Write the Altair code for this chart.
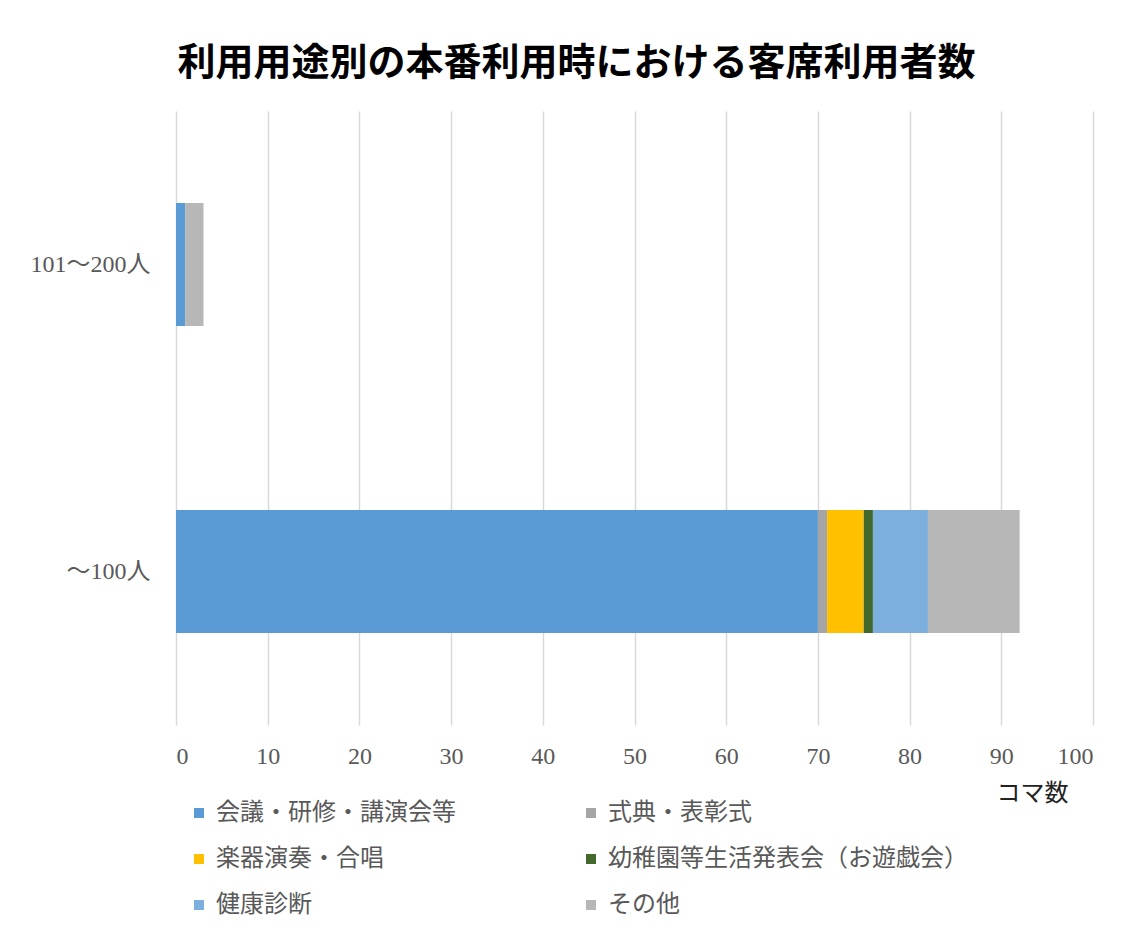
import altair as alt
import pandas as pd

categories = ["101～200人", "～100人"]
series = ["会議・研修・講演会等", "式典・表彰式", "楽器演奏・合唱",
          "幼稚園等生活発表会（お遊戯会）", "健康診断", "その他"]
colors = ["#5B9BD5", "#A5A5A5", "#FFC000", "#43682B", "#7CAFDD", "#B7B7B7"]
values_101_200 = [1, 0, 0, 0, 0, 2]
values_upto_100 = [70, 1, 4, 1, 6, 10]

rows = []
for cat, vals in zip(categories, [values_101_200, values_upto_100]):
    for i, (s, v) in enumerate(zip(series, vals)):
        rows.append({"区分": cat, "用途": s, "コマ数": v, "順": i})
df = pd.DataFrame(rows)

LABEL_FONT = "Liberation Serif, Noto Sans CJK JP"

chart = alt.Chart(df).mark_bar().encode(
    x=alt.X("コマ数:Q", stack="zero",
            scale=alt.Scale(domain=[0, 100], nice=False),
            axis=alt.Axis(values=list(range(0, 101, 10)), domain=False, ticks=False,
                          grid=True, gridColor="#D9D9D9", gridWidth=1.5,
                          labelFont=LABEL_FONT, labelFontSize=24, labelColor="#595959",
                          labelPadding=19, title="コマ数", titleFont=LABEL_FONT,
                          titleFontSize=24, titleFontWeight="normal", titleColor="#222222",
                          titleX=856, titleY=68, titleAlign="center", titleBaseline="middle")),
    y=alt.Y("区分:N", sort=categories,
            scale=alt.Scale(paddingInner=0.6, paddingOuter=0.3),
            axis=alt.Axis(title=None, domain=False, ticks=False, grid=False,
                          labelFont=LABEL_FONT, labelFontSize=24, labelColor="#595959",
                          labelPadding=26)),
    color=alt.Color("用途:N", sort=series,
                    scale=alt.Scale(domain=series, range=colors),
                    legend=alt.Legend(title=None, orient="none", legendX=11, legendY=690,
                                      direction="horizontal",
                                      columns=2, columnPadding=123, rowPadding=22,
                                      symbolType="square", symbolSize=100, symbolStrokeWidth=0,
                                      labelFont=LABEL_FONT, labelFontSize=24,
                                      labelColor="#595959", labelLimit=500, labelOffset=5)),
    order=alt.Order("順:Q", sort="ascending"),
).properties(
    width=917,
    height=614,
    padding={"left": 22, "top": 37, "right": 20, "bottom": 10},
    title=alt.TitleParams("利用用途別の本番利用時における客席利用者数",
                          font="Noto Sans CJK JP", fontSize=38, fontWeight="bold",
                          color="#000000", anchor="middle", dx=-58, offset=28),
).configure_view(stroke=None)

chart.save("out.html", embed_options={"renderer": "svg", "actions": False})
